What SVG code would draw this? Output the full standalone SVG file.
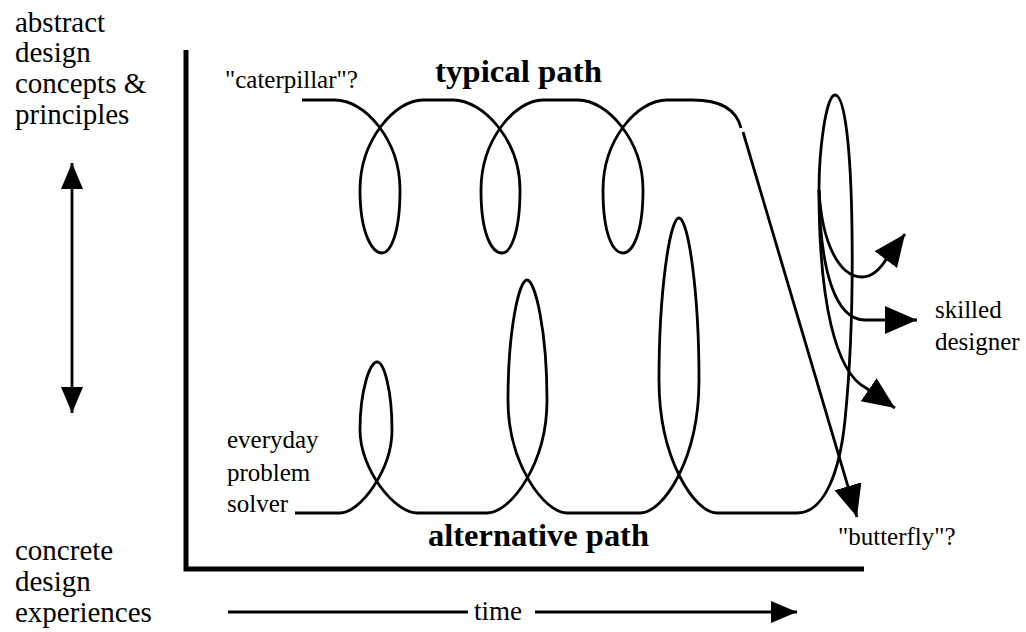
<svg xmlns="http://www.w3.org/2000/svg" width="1026" height="632" viewBox="0 0 1026 632">
<style>
.ln{fill:none;stroke:#000;stroke-width:2.8;stroke-linecap:butt;stroke-linejoin:round}
.ax{fill:none;stroke:#000;stroke-width:5}
text{font-family:'Liberation Serif','Times New Roman','DejaVu Serif',serif;fill:#000}
.lbl{font-size:29px}
.sm{font-size:25px}
.tm{font-size:27px}
.bd{font-size:31px;font-weight:bold}
</style>
<defs>
<marker id="big" markerUnits="userSpaceOnUse" markerWidth="34" markerHeight="30" refX="32" refY="14" orient="auto"><path d="M0,0 L32,14 L0,28 z" fill="#000"/></marker>
<marker id="med" markerUnits="userSpaceOnUse" markerWidth="28" markerHeight="24" refX="26" refY="11" orient="auto-start-reverse"><path d="M0,0 L26,11 L0,22 z" fill="#000"/></marker>
</defs>
<rect width="1026" height="632" fill="#fff"/>
<g id="axes">
<path class="ax" d="M186,50 V569 H864"/>
</g>
<g id="left-labels">
<text class="lbl" x="15" y="32">abstract</text>
<text class="lbl" x="15" y="62">design</text>
<text class="lbl" x="15" y="93">concepts &amp;</text>
<text class="lbl" x="15" y="124">principles</text>
<text class="lbl" x="15" y="560">concrete</text>
<text class="lbl" x="15" y="591">design</text>
<text class="lbl" x="15" y="622">experiences</text>
</g>
<g id="connectors">
<path id="double-arrow" class="ln" d="M72,163 V413" marker-start="url(#med)" marker-end="url(#med)"/>
<path id="time-arrow-left" class="ln" d="M228,612 H468"/>
<path id="time-arrow-right" class="ln" d="M535,612 H797" marker-end="url(#med)"/>
<path id="typical" class="ln" d="M302,100 L335,100 C365,100 400,140 400,190 C400,235 390,253 382,253 C373,253 360,235 360,190 C360,140 395,100 423,100 L453,100 C483,100 520,140 520,190 C520,235 510,253 502,253 C492,253 481,235 481,190 C481,140 515,100 543,100 L578,100 C607,100 643,140 643,190 C643,235 632,253 623,253 C613,253 603,235 603,190 C603,140 637,100 667,100 L693,100 C718,100 736,108 741,128"/>
<path id="butterfly" class="ln" d="M743,132 L857,517" marker-end="url(#big)"/>
<path id="alternative" class="ln" d="M295,513 L340,513 C360,513 392,470 392,430 C392,390 384,362 377,362 C370,362 360,390 360,430 C360,470 395,513 417,513 L487,513 C510,513 547,465 547,400 C547,330 535,280 527,280 C519,280 508,330 508,400 C508,465 545,513 567,513 L640,513 C663,513 699,460 699,380 C699,290 688,218 679,218 C670,218 659,290 659,380 C659,460 695,513 717,513 L797,513 C825,513 840,470 845,420 C850,370 853,300 852,230 C851,150 845,95 835,95 C826,95 819,150 819,190"/>
<path id="skilled-1" class="ln" d="M819,190 C822,245 840,277 862,277 C872,277 881,268 887,258 L905,234" marker-end="url(#big)"/>
<path id="skilled-2" class="ln" d="M819,190 C820,270 835,320 865,320 L917,320" marker-end="url(#big)"/>
<path id="skilled-3" class="ln" d="M819,190 C819,300 835,372 866,388 L895,408" marker-end="url(#big)"/>
</g>
<g id="labels">
<text class="sm" x="225" y="88">"caterpillar"?</text>
<text class="bd" x="435" y="82" textLength="167" lengthAdjust="spacingAndGlyphs">typical path</text>
<text class="sm" x="227" y="448">everyday</text>
<text class="sm" x="227" y="481">problem</text>
<text class="sm" x="227" y="512">solver</text>
<text class="bd" x="428" y="546" textLength="221" lengthAdjust="spacingAndGlyphs">alternative path</text>
<text class="sm" x="838" y="545">"butterfly"?</text>
<text class="sm" x="935" y="318">skilled</text>
<text class="sm" x="935" y="350">designer</text>
<text class="tm" x="474" y="620">time</text>
</g>
</svg>
